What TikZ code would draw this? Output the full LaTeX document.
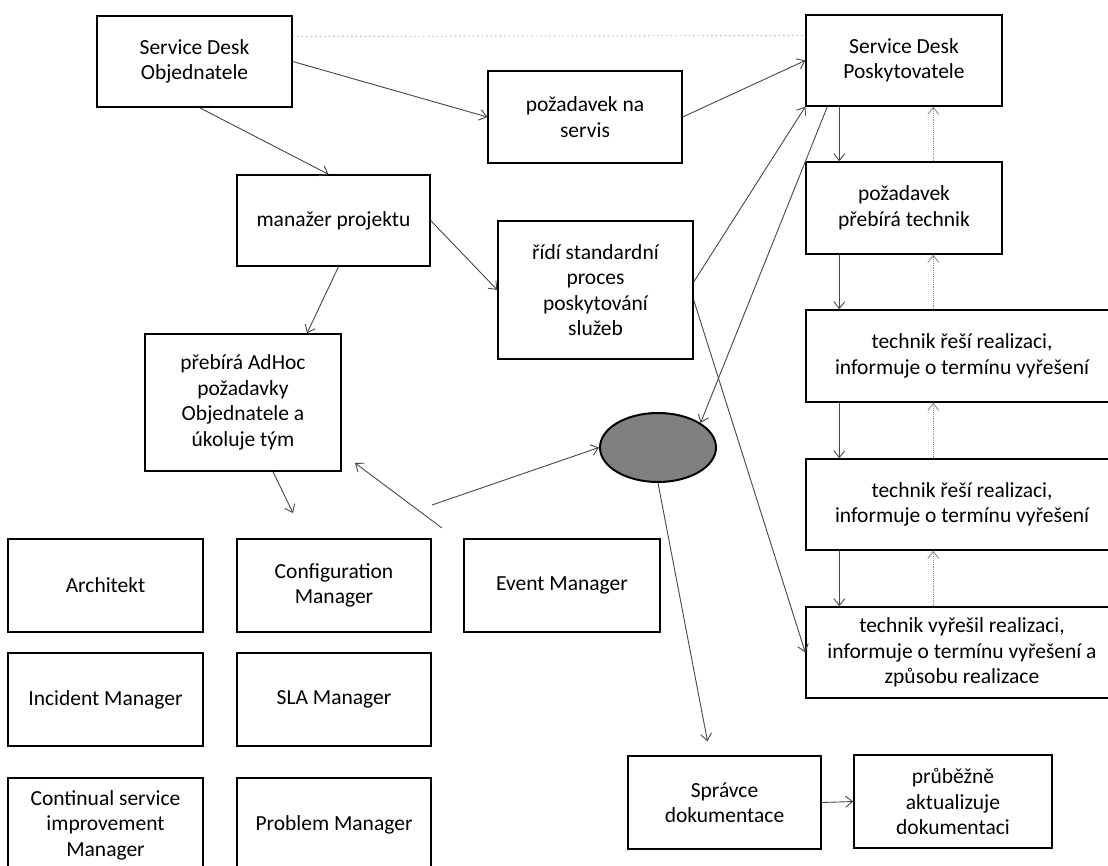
\documentclass[tikz,border=0pt]{standalone}
\usepackage{fontspec}
\setmainfont{Carlito}
\usetikzlibrary{arrows.meta,shapes.geometric}
\begin{document}
\begin{tikzpicture}[x=1pt,y=-1pt,
  box/.style={draw=black, line width=1.4pt, fill=white, align=center,
    inner sep=2pt, font=\fontsize{21.5}{25.5}\selectfont},
  tip/.style={-{Straight Barb[length=7pt,width=11pt,line width=0.9pt]}},
  conn/.style={tip, draw=black!72, line width=0.9pt},
  back/.style={tip, draw=black!45, line width=0.9pt, densely dotted},
  faint/.style={draw=black!30, line width=0.9pt, dash pattern=on 1.5pt off 3pt},
  blob/.style={ellipse, draw=black, line width=2pt, fill=black!50,
    minimum width=116pt, minimum height=69pt, inner sep=0pt}]
\useasboundingbox (0,0) rectangle (1108,866);
\clip (0,0) rectangle (1108,866);
\fill[white] (0,0) rectangle (1108,866);

% customer side
\node[box, minimum width=195pt, minimum height=91pt] (sdo) at (194.5,61.5) {Service Desk\\Objednatele};
\node[box, minimum width=194pt, minimum height=92pt] (pns) at (585,117) {požadavek na\\servis};
\node[box, minimum width=193pt, minimum height=91pt] (mp) at (333.5,220.5) {manažer projektu};
\node[box, minimum width=195pt, minimum height=138pt] (ridi) at (595.5,290) {řídí standardní\\proces\\poskytování\\služeb};
\node[box, minimum width=196pt, minimum height=137pt] (adhoc) at (243,402.5) {přebírá AdHoc\\požadavky\\Objednatele a\\úkoluje tým};

% provider column
\node[box, minimum width=196pt, minimum height=91pt] (sdp) at (904,60.5) {Service Desk\\Poskytovatele};
\node[box, minimum width=196pt, minimum height=92pt] (pbt) at (904,208) {požadavek\\přebírá technik};
\node[box, minimum width=312pt, minimum height=92pt] (tr1) at (962,356) {technik řeší realizaci,\\informuje o termínu vyřešení};
\node[box, minimum width=312pt, minimum height=91pt] (tr2) at (962,504.5) {technik řeší realizaci,\\informuje o termínu vyřešení};
\node[box, minimum width=312pt, minimum height=91pt] (tv) at (962,652.5) {technik vyřešil realizaci,\\informuje o termínu vyřešení a\\způsobu realizace};

% team roles
\node[box, minimum width=195pt, minimum height=93pt] (arch) at (105.5,585.5) {Architekt};
\node[box, minimum width=194pt, minimum height=93pt] (conf) at (334,585.5) {Configuration\\Manager};
\node[box, minimum width=196pt, minimum height=93pt] (event) at (562,585.5) {Event Manager};
\node[box, minimum width=195pt, minimum height=93pt] (inc) at (105.5,699.5) {Incident Manager};
\node[box, minimum width=194pt, minimum height=93pt] (sla) at (334,699.5) {SLA Manager};
\node[box, minimum width=195pt, minimum height=94pt] (csi) at (105.5,825) {Continual service\\improvement\\Manager};
\node[box, minimum width=194pt, minimum height=94pt] (prob) at (334,825) {Problem Manager};

% documentation
\node[blob] (ell) at (658,447.5) {};
\node[box, minimum width=193pt, minimum height=93pt] (spr) at (724.5,802.5) {Správce\\dokumentace};
\node[box, minimum width=198pt, minimum height=93pt] (prub) at (953,801.5) {průběžně\\aktualizuje\\dokumentaci};

% free ends
\coordinate (team) at (293,513);
\coordinate (evfoot) at (442,528);
\coordinate (adtip) at (355,463);
\coordinate (elfoot) at (432,505);

% connectors
\draw[faint] ([yshift=25]sdo.east) -- ([yshift=25]sdp.west);
\draw[conn] (sdo.east) -- (pns.west);
\draw[conn] (pns.east) -- (sdp.west);
\draw[conn] ([xshift=5]sdo.south) -- ([xshift=-5]mp.north);
\draw[conn] (mp.east) -- (ridi.west);
\draw[conn] ([xshift=5]mp.south) -- ([xshift=64]adhoc.north);
\draw[conn] ([xshift=30]adhoc.south) -- (team);
\draw[conn] (evfoot) -- (adtip);
\draw[conn] (elfoot) -- (ell.west);
\draw[conn] ([yshift=8]ridi.east) -- (sdp.south west);
\draw[conn] ([xshift=22]sdp.south west) -- (ell.30);
\draw[conn] ([yshift=-10]ridi.east) -- (tv.west);
\draw[conn] (ell.south) -- ([xshift=-17,yshift=14]spr.north);
\draw[conn] (spr.east) -- (prub.west);

\foreach \a/\b in {sdp/pbt, pbt/tr1, tr1/tr2, tr2/tv} {
  \draw[conn] ([xshift=34]\a.south west) -- ([xshift=34]\b.north west);
  \draw[back] ([xshift=128]\b.north west) -- ([xshift=128]\a.south west);
}
\end{tikzpicture}
\end{document}
